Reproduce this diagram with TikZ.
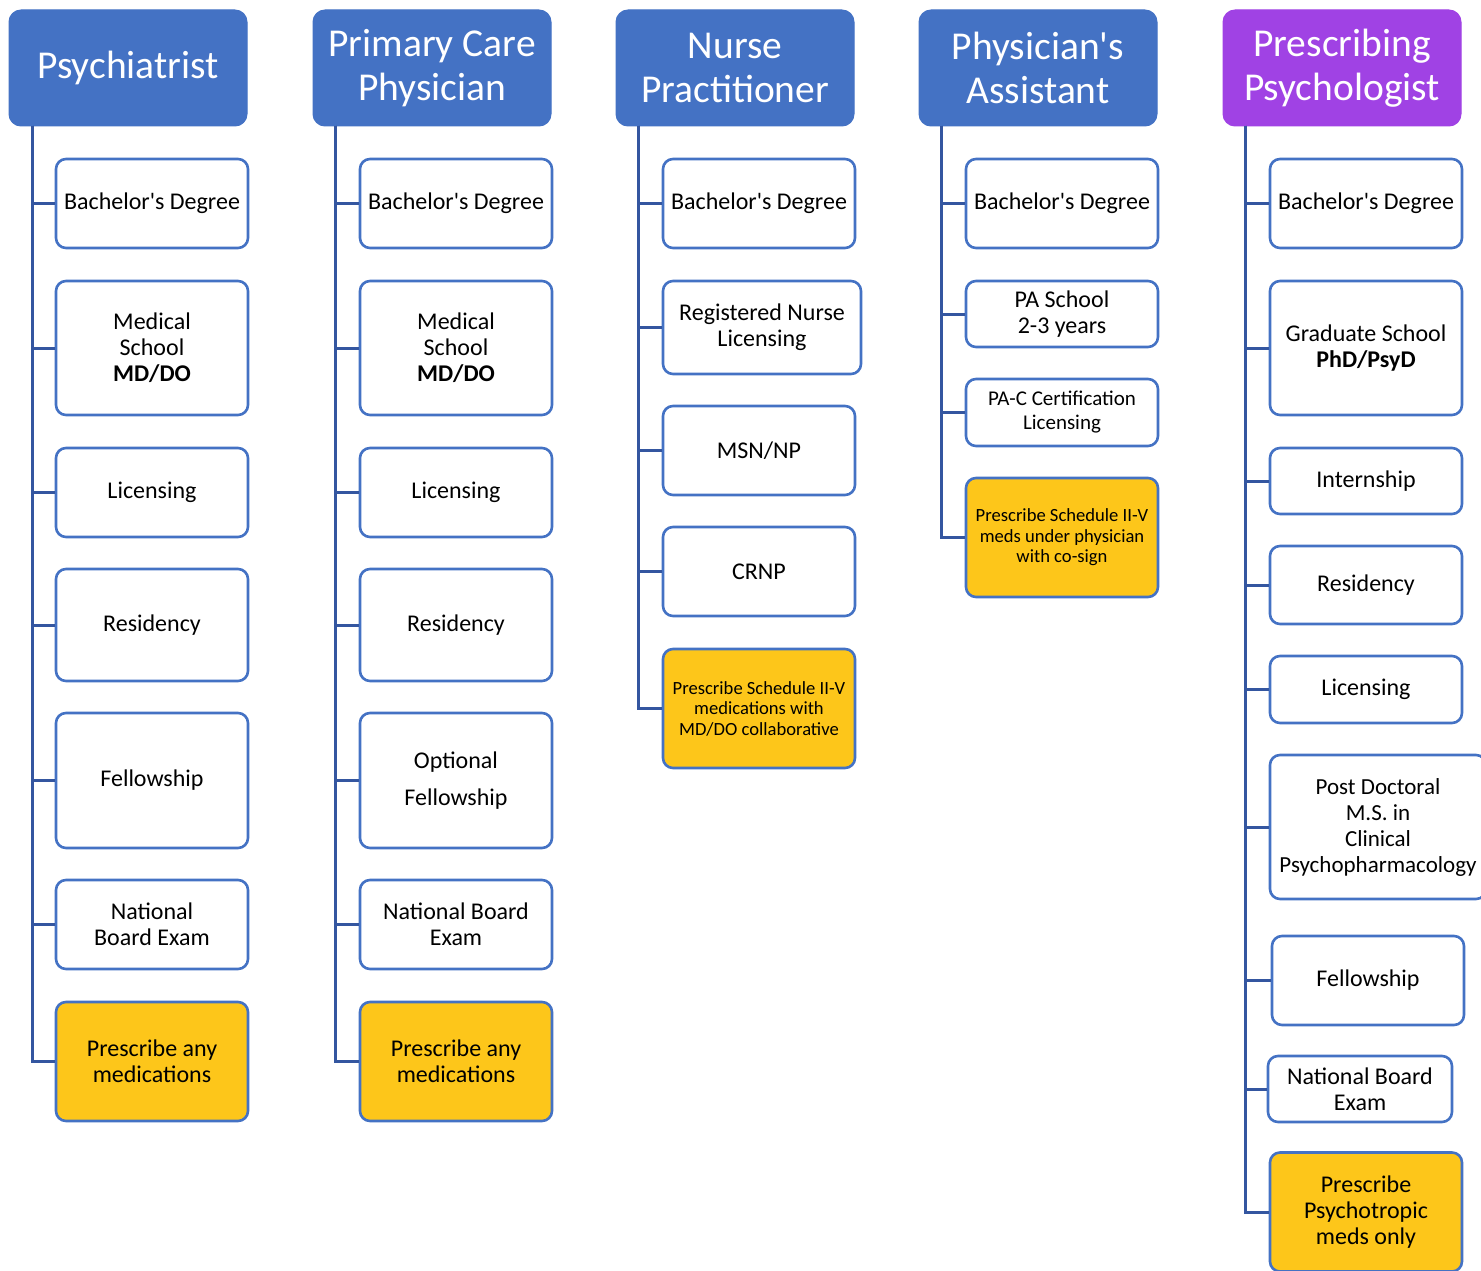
\documentclass[tikz,border=0pt]{standalone}
\usepackage{fontspec}
\setmainfont{Carlito}
\usepackage{xcolor}
\usetikzlibrary{calc, positioning}
\definecolor{hdblue}{RGB}{68,114,196}
\definecolor{hdpurple}{RGB}{160,66,228}
\definecolor{rxgold}{RGB}{253,198,26}
\definecolor{linkblue}{RGB}{52,86,160}
\newcommand{\ap}{\textquotesingle}

\begin{document}
\begin{tikzpicture}[x=1pt, y=-1pt,
  head/.style={fill=hdblue, draw=hdblue, line width=1pt, rounded corners=12pt, text=white,
    minimum width=238pt, minimum height=116pt, align=center,
    font=\fontsize{39.5}{44}\selectfont},
  card/.style={draw=hdblue, fill=white, line width=2.6pt, rounded corners=10pt,
    minimum width=192pt, align=center, inner sep=2pt,
    font=\fontsize{24}{26}\selectfont},
  rxbox/.style={card, fill=rxgold, minimum height=119pt},
  small/.style={font=\fontsize{18.6}{20.5}\selectfont},
  link/.style={draw=linkblue, line width=3pt}]
\useasboundingbox (0,0) rectangle (1481,1271);

\node[head] (t1) at (128,68) {Psychiatrist};
\node[head] (t2) at (432,68) {Primary Care\\Physician};
\node[head] (t3) at (735,68) {Nurse\\Practitioner};
\node[head] (t4) at (1038,68) {Physician\ap s\\Assistant};
\node[head, fill=hdpurple, draw=hdpurple] (t5) at (1342,68) {Prescribing\\Psychologist};

\coordinate (s1) at (32,126);
\coordinate (s2) at (335,126);
\coordinate (s3) at (638,126);
\coordinate (s4) at (941,126);
\coordinate (s5) at (1245,126);

\node[card, minimum height=89pt] (a1) at (152,203.5) {Bachelor\ap s Degree};
\node[card, minimum height=134pt] (a2) at (152,348) {Medical\\School\\\textbf{MD/DO}};
\node[card, minimum height=89pt] (a3) at (152,492.5) {Licensing};
\node[card, minimum height=112pt] (a4) at (152,625) {Residency};
\node[card, minimum height=135pt] (a5) at (152,780.5) {Fellowship};
\node[card, minimum height=89pt] (a6) at (152,924.5) {National\\Board Exam};
\node[rxbox] (a7) at (152,1061.5) {Prescribe any\\medications};

\node[card, minimum height=89pt] (b1) at (456,203.5) {Bachelor\ap s Degree};
\node[card, minimum height=134pt] (b2) at (456,348) {Medical\\School\\\textbf{MD/DO}};
\node[card, minimum height=89pt] (b3) at (456,492.5) {Licensing};
\node[card, minimum height=112pt] (b4) at (456,625) {Residency};
\node[card, minimum height=135pt] (b5) at (456,780.5) {Optional\\[11pt]Fellowship};
\node[card, minimum height=89pt] (b6) at (456,924.5) {National Board\\Exam};
\node[rxbox] (b7) at (456,1061.5) {Prescribe any\\medications};

\node[card, minimum height=89pt] (c1) at (759,203.5) {Bachelor\ap s Degree};
\node[card, minimum height=93pt, minimum width=198pt] (c2) at (762,327.5) {Registered Nurse\\Licensing};
\node[card, minimum height=89pt] (c3) at (759,450.5) {MSN/NP};
\node[card, minimum height=89pt] (c4) at (759,571.5) {CRNP};
\node[rxbox, small] (c5) at (759,708.5) {Prescribe Schedule II-V\\medications with\\MD/DO collaborative};

\node[card, minimum height=89pt] (d1) at (1062,203.5) {Bachelor\ap s Degree};
\node[card, minimum height=66pt] (d2) at (1062,314) {PA School\\2-3 years};
\node[card, minimum height=67pt, font=\fontsize{21}{24}\selectfont] (d3) at (1062,412.5) {PA-C Certification\\Licensing};
\node[rxbox, small] (d4) at (1062,537.5) {Prescribe Schedule II-V\\meds under physician\\with co-sign};

\node[card, minimum height=89pt] (e1) at (1366,203.5) {Bachelor\ap s Degree};
\node[card, minimum height=134pt] (e2) at (1366,348) {Graduate School\\\textbf{PhD/PsyD}};
\node[card, minimum height=66pt] (e3) at (1366,481) {Internship};
\node[card, minimum height=78pt] (e4) at (1366,585) {Residency};
\node[card, minimum height=67pt] (e5) at (1366,689.5) {Licensing};
\node[card, minimum height=144pt, minimum width=216pt, font=\fontsize{23}{26}\selectfont] (e6) at (1378,827) {Post Doctoral\\M.S. in\\Clinical\\Psychopharmacology};
\node[card, minimum height=89pt] (e7) at (1368,980.5) {Fellowship};
\node[card, minimum height=66pt, minimum width=184pt] (e8) at (1360,1089) {National Board\\Exam};
\node[rxbox] (e9) at (1366,1212) {Prescribe\\Psychotropic\\meds only};

\foreach \b in {a1,a2,a3,a4,a5,a6,a7} \draw[link] (s1) |- (\b.west);
\foreach \b in {b1,b2,b3,b4,b5,b6,b7} \draw[link] (s2) |- (\b.west);
\foreach \b in {c1,c2,c3,c4,c5} \draw[link] (s3) |- (\b.west);
\foreach \b in {d1,d2,d3,d4} \draw[link] (s4) |- (\b.west);
\foreach \b in {e1,e2,e3,e4,e5,e6,e7,e8,e9} \draw[link] (s5) |- (\b.west);
\end{tikzpicture}
\end{document}
